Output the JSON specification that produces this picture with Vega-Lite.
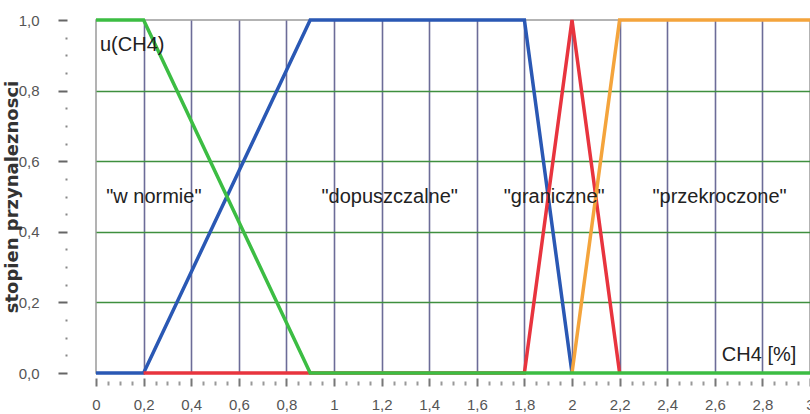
{
  "$schema": "https://vega.github.io/schema/vega-lite/v6.json",
  "width": 714,
  "height": 353,
  "autosize": "none",
  "padding": {"left": 96, "top": 20, "right": 0, "bottom": 41},
  "background": "white",
  "config": {
    "view": {"stroke": "#9a9a9a", "strokeWidth": 1.5},
    "font": "Liberation Sans"
  },
  "datasets": {
    "curves": [
      {"series": "dopuszczalne", "x": 0, "y": 0, "o": 1},
      {"series": "dopuszczalne", "x": 0.2, "y": 0, "o": 2},
      {"series": "dopuszczalne", "x": 0.9, "y": 1, "o": 3},
      {"series": "dopuszczalne", "x": 1.8, "y": 1, "o": 4},
      {"series": "dopuszczalne", "x": 2.0, "y": 0, "o": 5},
      {"series": "graniczne", "x": 0.2, "y": 0, "o": 1},
      {"series": "graniczne", "x": 1.8, "y": 0, "o": 2},
      {"series": "graniczne", "x": 2.0, "y": 1, "o": 3},
      {"series": "graniczne", "x": 2.2, "y": 0, "o": 4},
      {"series": "przekroczone", "x": 2.0, "y": 0, "o": 1},
      {"series": "przekroczone", "x": 2.2, "y": 1, "o": 2},
      {"series": "przekroczone", "x": 3.0, "y": 1, "o": 3},
      {"series": "w normie", "x": 0, "y": 1, "o": 1},
      {"series": "w normie", "x": 0.2, "y": 1, "o": 2},
      {"series": "w normie", "x": 0.9, "y": 0, "o": 3},
      {"series": "w normie", "x": 3.0, "y": 0, "o": 4}
    ],
    "labels": [
      {"label": "u(CH4)", "x": 0.152, "y": 0.93},
      {"label": "\"w normie\"", "x": 0.243, "y": 0.5},
      {"label": "\"dopuszczalne\"", "x": 1.234, "y": 0.5},
      {"label": "\"graniczne\"", "x": 1.925, "y": 0.5},
      {"label": "\"przekroczone\"", "x": 2.62, "y": 0.5},
      {"label": "CH4 [%]", "x": 2.786, "y": 0.051}
    ]
  },
  "encoding": {
    "x": {
      "field": "x", "type": "quantitative",
      "scale": {"domain": [0, 3], "nice": false, "zero": false},
      "axis": {
        "title": null,
        "domain": false,
        "values": [0,0.05,0.1,0.15,0.2,0.25,0.3,0.35,0.4,0.45,0.5,0.55,0.6,0.65,0.7,0.75,0.8,0.85,0.9,0.95,1,1.05,1.1,1.15,1.2,1.25,1.3,1.35,1.4,1.45,1.5,1.55,1.6,1.65,1.7,1.75,1.8,1.85,1.9,1.95,2,2.05,2.1,2.15,2.2,2.25,2.3,2.35,2.4,2.45,2.5,2.55,2.6,2.65,2.7,2.75,2.8,2.85,2.9,2.95,3],
        "labelExpr": "abs(datum.value*5-round(datum.value*5))<0.001 ? replace(format(datum.value,'~g'),'.',',') : ''",
        "labelOverlap": false,
        "labelFlush": false,
        "labelFontSize": 15,
        "labelColor": "#555",
        "labelPadding": 11,
        "tickSize": 13,
        "tickWidth": 2,
        "tickDash": {"condition": {"test": "abs(datum.value*5-round(datum.value*5))<0.001", "value": [0, 5, 8, 60]}, "value": [0, 8, 4, 60]},
        "tickColor": {"condition": {"test": "abs(datum.value*5-round(datum.value*5))<0.001", "value": "#777"}, "value": "#999"},
        "grid": true,
        "gridColor": "#6c6c98",
        "gridWidth": 1.6,
        "gridOpacity": {"condition": {"test": "abs(datum.value*5-round(datum.value*5))<0.001 && datum.value > 0.01 && datum.value < 2.99", "value": 1}, "value": 0}
      }
    },
    "y": {
      "field": "y", "type": "quantitative",
      "scale": {"domain": [0, 1], "nice": false},
      "axis": {
        "title": "stopien przynaleznosci",
        "titleFont": "DejaVu Sans",
        "titleFontSize": 18,
        "titleFontWeight": "bold",
        "titleColor": "#333",
        "titlePadding": -3,
        "domain": false,
        "values": [0,0.05,0.1,0.15,0.2,0.25,0.3,0.35,0.4,0.45,0.5,0.55,0.6,0.65,0.7,0.75,0.8,0.85,0.9,0.95,1],
        "labelExpr": "abs(datum.value*5-round(datum.value*5))<0.001 ? replace(format(datum.value,'.1f'),'.',',') : ''",
        "labelOverlap": false,
        "labelFlush": false,
        "labelFontSize": 15,
        "labelColor": "#555",
        "labelPadding": 19,
        "tickSize": 38,
        "tickWidth": 2,
        "tickDash": {"condition": {"test": "abs(datum.value*5-round(datum.value*5))<0.001", "value": [0, 29, 9, 60]}, "value": [0, 29, 2, 60]},
        "tickColor": {"condition": {"test": "abs(datum.value*5-round(datum.value*5))<0.001", "value": "#666"}, "value": "#888"},
        "grid": true,
        "gridColor": "#3f8f3f",
        "gridWidth": 1.6,
        "gridOpacity": {"condition": {"test": "abs(datum.value*5-round(datum.value*5))<0.001 && datum.value > 0.01 && datum.value < 0.99", "value": 1}, "value": 0}
      }
    }
  },
  "layer": [
    {
      "data": {"name": "curves"},
      "transform": [{"filter": "datum.series == 'dopuszczalne'"}],
      "mark": {"type": "line", "strokeWidth": 3.5, "clip": false},
      "encoding": {
        "order": {"field": "o", "type": "quantitative"},
        "color": {"field": "series", "type": "nominal", "legend": null,
          "scale": {"domain": ["w normie", "dopuszczalne", "graniczne", "przekroczone"], "range": ["#3cbd43", "#2a58b4", "#e8343e", "#f4a43c"]}}
      }
    },
    {
      "data": {"name": "curves"},
      "transform": [{"filter": "datum.series == 'graniczne'"}],
      "mark": {"type": "line", "strokeWidth": 3.5, "clip": false},
      "encoding": {
        "order": {"field": "o", "type": "quantitative"},
        "color": {"field": "series", "type": "nominal", "legend": null}
      }
    },
    {
      "data": {"name": "curves"},
      "transform": [{"filter": "datum.series == 'przekroczone'"}],
      "mark": {"type": "line", "strokeWidth": 3.5, "clip": false},
      "encoding": {
        "order": {"field": "o", "type": "quantitative"},
        "color": {"field": "series", "type": "nominal", "legend": null}
      }
    },
    {
      "data": {"name": "curves"},
      "transform": [{"filter": "datum.series == 'w normie'"}],
      "mark": {"type": "line", "strokeWidth": 3.5, "clip": false},
      "encoding": {
        "order": {"field": "o", "type": "quantitative"},
        "color": {"field": "series", "type": "nominal", "legend": null}
      }
    },
    {
      "data": {"name": "labels"},
      "mark": {"type": "text", "fontSize": 20, "color": "#222", "baseline": "middle", "align": "center"},
      "encoding": {
        "text": {"field": "label"}
      }
    }
  ]
}
